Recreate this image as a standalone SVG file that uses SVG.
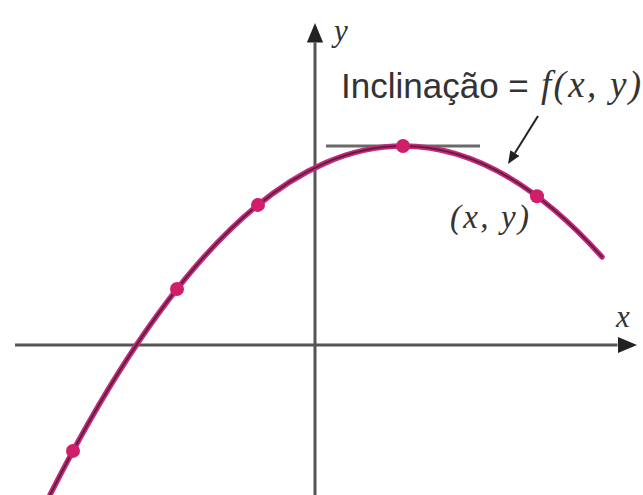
<svg xmlns="http://www.w3.org/2000/svg" width="643" height="495" viewBox="0 0 643 495">
<style>
.axis{stroke:#555;stroke-width:3;fill:none}
.curve-o{stroke:#c8297a;stroke-width:5.5;fill:none;stroke-linecap:round}
.curve-i{stroke:#5e2042;stroke-width:2;fill:none;stroke-linecap:round}
.dot{fill:#d01e6a}
.sans{font-family:"Liberation Sans",Arial,sans-serif;fill:#333}
.serif{font-family:"Liberation Serif","Times New Roman",serif;font-style:italic;fill:#333}
</style>
<defs>
<marker id="ah" viewBox="0 0 6.5 5.4" refX="0" refY="2.7" markerWidth="6.5" markerHeight="5.4" orient="auto" markerUnits="strokeWidth">
<path d="M0,0 L6.5,2.7 L0,5.4 z" fill="#222"/>
</marker>
</defs>
<rect width="643" height="495" fill="#fff"/>
<g id="axes">
<line class="axis" x1="15" y1="345" x2="617.5" y2="345" marker-end="url(#ah)"/>
<line class="axis" x1="315" y1="495" x2="315" y2="42.5" marker-end="url(#ah)"/>
<text class="serif" x="616" y="327" font-size="31">x</text>
<text class="serif" x="334" y="41" font-size="31">y</text>
</g>
<g id="tangent">
<line x1="326" y1="146" x2="480" y2="146" stroke="#6a6a6a" stroke-width="3"/>
</g>
<g id="curve">
<path class="curve-o" d="M50,494.9 Q326,-50.7 602,256.9"/>
<path class="curve-i" d="M50,494.9 Q326,-50.7 602,256.9"/>
</g>
<g id="points">
<circle class="dot" cx="73" cy="450.9" r="7"/>
<circle class="dot" cx="177" cy="289" r="7"/>
<circle class="dot" cx="258" cy="204.9" r="7"/>
<circle class="dot" cx="403" cy="146" r="7"/>
<circle class="dot" cx="537" cy="196.3" r="7"/>
</g>
<g id="connectors">
<line x1="538" y1="116" x2="514.9" y2="153" stroke="#222" stroke-width="2" marker-end="url(#ah)"/>
</g>
<g id="labels">
<text class="sans" x="341" y="98" font-size="35">Inclinação = </text>
<text class="serif" x="541" y="97" font-size="37" textLength="100" lengthAdjust="spacing">f(x, y)</text>
<text class="serif" x="450" y="228" font-size="33" textLength="79" lengthAdjust="spacing">(x, y)</text>
</g>
</svg>
